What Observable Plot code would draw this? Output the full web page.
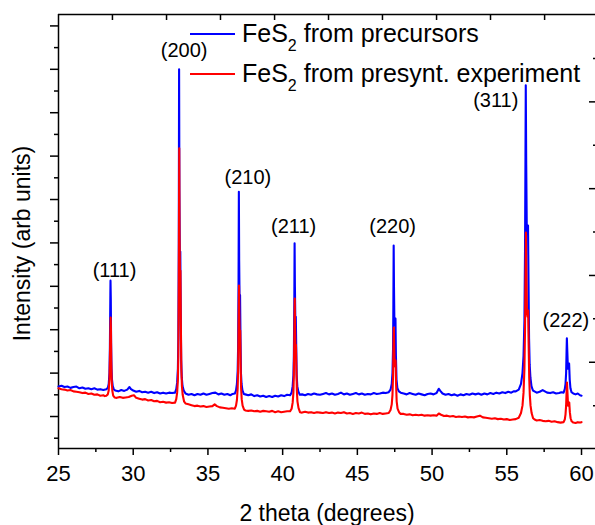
<!DOCTYPE html>
<html><head><meta charset="utf-8">
<script src="https://cdn.jsdelivr.net/npm/d3@7"></script>
<script src="https://cdn.jsdelivr.net/npm/@observablehq/plot@0.6"></script>
<style>
body{margin:0;background:#fff;}
#wrap{position:relative;width:595px;height:525px;font-family:"Liberation Sans",Arial,sans-serif;overflow:hidden;}
#legend{position:absolute;left:190px;top:13px;font-size:25px;line-height:40px;color:#000;}
.row{white-space:nowrap;height:40px;}
.sw{display:inline-block;width:45px;height:2px;margin-right:7px;vertical-align:7px;}
sub{font-size:16px;line-height:0;vertical-align:-9px;}
</style></head>
<body><div id="wrap"><div id="legend"></div></div>
<script>
// ---- data (2 theta in degrees, intensity in arbitrary units) ----
const seriesNames = ["FeS<sub>2</sub> from precursors", "FeS<sub>2</sub> from presynt. experiment"];
const seriesColors = ["#0000ff", "#ff0000"];

const blue = [
[25.00,6.9],[25.20,7.1],[25.40,6.8],[25.60,6.9],[25.80,6.6],[26.00,6.8],[26.20,6.9],[26.40,6.5],[26.60,6.7],[26.80,6.4],
[27.00,6.5],[27.20,6.3],[27.40,6.5],[27.60,6.2],[27.80,6.3],[28.00,6.1],[28.20,6.3],
[28.30,6.6],[28.36,7.5],[28.41,10],[28.44,16],[28.47,28],[28.48,31.3],[28.50,27],[28.52,17],[28.55,11],[28.58,8.5],[28.63,7.0],[28.70,6.3],
[28.80,6.0],[29.00,5.8],[29.20,6.1],[29.40,5.9],[29.60,6.2],[29.75,6.8],[29.85,6.3],[30.00,6.0],[30.20,5.7],[30.40,5.9],
[30.60,5.6],[30.80,5.7],[31.00,5.5],[31.20,5.7],[31.40,5.4],[31.60,5.6],[31.80,5.3],[32.00,5.5],[32.20,5.3],[32.40,5.5],[32.60,5.4],
[32.80,5.5],[32.88,6.3],[32.94,7.8],[32.99,11],[33.02,18],[33.05,40],[33.07,80.0],[33.09,52],[33.12,36],[33.15,38],[33.18,24],
[33.21,13],[33.25,9],[33.30,7],[33.38,6],[33.50,5.3],
[33.70,5.0],[33.90,5.2],[34.10,4.9],[34.30,5.2],[34.50,5.0],[34.70,5.3],[34.90,5.0],[35.10,5.2],[35.30,5.4],[35.50,5.5],
[35.70,5.1],[35.90,5.3],[36.10,5.0],[36.30,5.2],[36.50,4.9],[36.65,5.2],
[36.80,5.3],[36.88,6.0],[36.94,7.5],[36.99,10.5],[37.02,16],[37.05,32],[37.07,51.8],[37.09,36],[37.12,26],[37.15,28],[37.18,18],
[37.21,10],[37.25,7.5],[37.31,6],[37.40,5.2],[37.50,5.1],
[37.70,4.9],[37.90,5.1],[38.10,4.7],[38.30,4.9],[38.50,4.6],[38.70,4.8],[38.90,4.5],[39.10,4.7],[39.30,4.5],[39.50,4.8],
[39.70,4.6],[39.90,4.9],[40.10,4.7],[40.30,5.0],
[40.50,4.9],[40.60,5.5],[40.67,7],[40.72,9.5],[40.75,14],[40.78,26],[40.80,39.9],[40.82,30],[40.85,22],[40.88,23],[40.91,16],
[40.94,9.5],[40.98,7],[41.05,5.8],[41.15,5.0],
[41.30,5.1],[41.50,4.9],[41.70,5.2],[41.90,5.0],[42.10,5.3],[42.30,5.1],[42.50,5.0],[42.70,5.2],[42.90,5.4],[43.10,5.1],
[43.30,5.3],[43.50,5.0],[43.70,5.2],[43.90,5.5],[44.10,5.1],[44.30,5.3],[44.50,5.0],[44.70,5.2],[44.90,5.4],[45.10,5.1],
[45.30,5.3],[45.50,5.0],[45.70,5.2],[45.90,5.1],[46.10,5.4],[46.30,5.2],[46.50,5.3],[46.70,5.5],[46.90,5.4],
[47.10,5.6],[47.22,6.2],[47.30,7.5],[47.35,10],[47.39,16],[47.41,26],[47.43,39.4],[47.45,30],[47.48,21],[47.52,21],[47.55,22.6],
[47.58,14],[47.62,8.5],[47.68,6.5],[47.78,5.8],[47.90,5.5],
[48.10,5.3],[48.30,5.1],[48.50,5.4],[48.70,5.2],[48.90,5.0],[49.10,5.3],[49.30,5.1],[49.50,4.9],[49.70,5.2],[49.90,5.3],
[50.10,5.1],[50.30,5.4],[50.45,6.4],[50.55,5.9],[50.70,5.3],[50.90,5.0],[51.10,5.2],[51.30,4.9],[51.50,5.1],[51.70,4.8],
[51.90,5.1],[52.10,4.9],[52.30,5.2],[52.50,5.0],[52.70,5.3],[52.90,5.1],[53.10,5.3],[53.30,5.0],[53.50,5.3],[53.70,5.1],
[53.90,5.4],[54.10,5.2],[54.30,5.5],[54.50,5.3],[54.70,5.6],[54.90,5.4],[55.10,5.7],[55.30,5.5],[55.45,5.8],
[55.60,5.8],[55.80,6.2],[55.95,7.5],[56.05,10],[56.12,14],[56.18,22],[56.22,38],[56.25,60],[56.27,76.3],[56.30,58],[56.34,42],
[56.38,42],[56.42,44.0],[56.45,32],[56.49,18],[56.53,12],[56.58,9],[56.65,7],[56.75,6],[56.85,5.8],
[57.00,5.5],[57.20,5.7],[57.40,6.1],[57.55,5.8],[57.70,5.5],[57.90,5.4],[58.10,5.6],[58.30,5.3],[58.50,5.4],[58.65,5.6],
[58.80,5.5],[58.88,6.3],[58.93,7.5],[58.97,10],[59.00,15],[59.02,18.0],[59.05,15],[59.09,11],[59.13,11.5],[59.17,12.2],
[59.21,8.5],[59.26,6.5],[59.33,5.6],[59.45,5.3],
[59.60,5.1],[59.75,5.3],[59.90,4.9],[60.00,4.8]
];

const red = [
[25.00,6.5],[25.20,6.3],[25.40,6.2],[25.60,6.0],[25.80,6.1],[26.00,5.8],[26.20,5.7],[26.40,5.6],[26.60,5.4],[26.80,5.5],
[27.00,5.2],[27.20,5.3],[27.40,5.0],[27.60,5.1],[27.80,4.8],[28.00,4.9],[28.10,4.7],
[28.20,4.8],[28.30,5.1],[28.36,6],[28.41,8.5],[28.44,13],[28.47,20],[28.49,22.8],[28.51,20],[28.53,13],[28.56,8.5],[28.60,6],
[28.66,4.8],[28.75,4.4],
[28.90,4.3],[29.10,4.5],[29.30,4.3],[29.50,4.4],[29.70,4.5],[29.90,4.8],[30.05,4.9],[30.20,4.3],[30.40,4.1],[30.60,3.9],
[30.80,4.0],[31.00,3.7],[31.20,3.8],[31.40,3.5],[31.60,3.6],[31.80,3.3],[32.00,3.4],[32.20,3.2],[32.40,3.3],[32.60,3.1],
[32.80,3.2],[32.88,4.0],[32.94,5.5],[32.99,8.5],[33.02,14],[33.05,32],[33.08,61.8],[33.10,42],[33.13,32],[33.16,33.6],
[33.19,21],[33.22,11],[33.26,7],[33.31,5],[33.40,3.5],[33.50,3.0],
[33.70,2.8],[33.90,2.6],[34.10,2.4],[34.30,2.5],[34.50,2.3],[34.70,2.4],[34.90,2.2],[35.10,2.3],[35.30,2.4],[35.45,2.8],
[35.60,2.4],[35.80,2.1],[36.00,2.0],[36.20,1.9],[36.40,1.8],[36.60,1.9],
[36.80,1.8],[36.88,2.5],[36.94,3.8],[36.99,6.5],[37.02,11],[37.05,21],[37.08,30.2],[37.10,24],[37.13,18],[37.16,19.8],
[37.19,12],[37.22,6.5],[37.26,4],[37.32,2.5],[37.42,1.6],[37.50,1.4],
[37.70,1.3],[37.90,1.4],[38.10,1.2],[38.30,1.3],[38.50,1.1],[38.70,1.3],[38.90,1.2],[39.10,1.1],[39.30,1.3],[39.50,1.0],
[39.70,1.2],[39.90,1.0],[40.10,1.1],[40.30,1.2],
[40.50,1.2],[40.60,1.8],[40.67,3.2],[40.72,5.5],[40.75,9.5],[40.78,18],[40.81,27.2],[40.83,21],[40.86,15],[40.89,16.5],
[40.92,11],[40.95,6],[40.99,3.5],[41.06,2],[41.16,1.0],
[41.30,0.9],[41.50,1.1],[41.70,0.9],[41.90,1.0],[42.10,0.8],[42.30,1.0],[42.50,0.9],[42.70,0.8],[42.90,1.0],[43.10,0.8],
[43.30,0.9],[43.50,0.7],[43.70,0.9],[43.90,0.8],[44.10,1.0],[44.30,0.7],[44.50,0.8],[44.70,0.6],[44.90,0.8],[45.10,0.7],
[45.30,0.9],[45.50,0.6],[45.70,0.7],[45.90,0.5],[46.10,0.7],[46.30,0.6],[46.50,0.8],[46.70,0.6],[46.90,0.7],
[47.10,0.8],[47.22,1.5],[47.30,2.8],[47.35,5],[47.39,9.5],[47.41,15],[47.44,20.5],[47.46,17],[47.49,12],[47.53,11.5],
[47.56,12.9],[47.59,7.5],[47.63,3.5],[47.69,1.8],[47.79,1.0],[47.90,0.6],
[48.10,0.6],[48.30,0.4],[48.50,0.5],[48.70,0.3],[48.90,0.4],[49.10,0.3],[49.30,0.4],[49.50,0.2],[49.70,0.3],[49.90,0.2],
[50.10,0.3],[50.30,0.2],[50.45,0.7],[50.60,0.4],[50.80,0.1],[51.00,0.2],[51.20,0.0],[51.40,0.1],[51.60,-0.1],[51.80,0.0],
[52.00,-0.1],[52.20,0.0],[52.40,-0.2],[52.60,-0.1],[52.80,-0.2],[53.00,0.0],[53.20,0.2],[53.40,-0.2],[53.60,-0.3],[53.80,-0.4],
[54.00,-0.5],[54.20,-0.4],[54.40,-0.6],[54.60,-0.5],[54.80,-0.7],[55.00,-0.6],[55.20,-0.8],[55.40,-0.7],
[55.60,-0.6],[55.80,-0.3],[55.95,0.8],[56.05,2.5],[56.12,5.5],[56.18,11],[56.22,20],[56.25,32],[56.28,42.4],[56.31,34],
[56.35,24],[56.39,23],[56.43,24.4],[56.46,17],[56.50,9],[56.54,5],[56.59,2.5],[56.66,0.8],[56.76,-0.4],[56.86,-0.7],
[57.00,-0.9],[57.20,-0.8],[57.40,-1.0],[57.60,-1.1],[57.80,-1.0],[58.00,-1.2],[58.20,-1.1],[58.40,-1.3],[58.60,-1.4],
[58.80,-1.3],[58.88,-0.7],[58.93,0.5],[58.97,2.5],[59.00,5.5],[59.03,7.8],[59.06,5.5],[59.10,2.5],[59.14,2.6],[59.18,3.2],
[59.22,1.0],[59.27,-0.4],[59.34,-1.1],[59.45,-1.4],
[59.60,-1.5],[59.75,-1.3],[59.90,-1.4],[60.00,-1.3]
];

const peakLabels = ["(111)", "(200)", "(210)", "(211)", "(220)", "(311)", "(222)"];
const peakTheta  = [28.48, 33.07, 37.07, 40.80, 47.43, 56.27, 59.02];

const xTicks      = [25, 30, 35, 40, 45, 50, 55, 60];
const xMinorTicks = [27.5, 32.5, 37.5, 42.5, 47.5, 52.5, 57.5];
const topTicks    = [28.61, 32.23, 35.84, 39.46, 43.07, 46.68, 50.30, 53.91, 57.53];
const leftMajor   = [0, 10, 20, 30, 40, 50, 60, 70, 80, 90];
const leftMinor   = [-5, 5, 15, 25, 35, 45, 55, 65, 75, 85];
const rightMajor  = [12.5, 32.5, 52.5, 72.5];
const rightMinor  = [2.5, 22.5, 42.5, 62.5, 82.5];

const xDomain = [25, 61.07];
const yDomain = [-7.37, 92.63];

// ---- layout offsets for peak labels (pixels) ----
const labelOffsets = [[4,-10],[5,-19],[9,-14],[-1,-17],[-1,-19],[-30,15],[-1,-18]];

const labelMarks = peakLabels.map((lab, i) => {
  const th = peakTheta[i];
  const tip = d3.max(blue.filter(d => Math.abs(d[0] - th) < 0.03), d => d[1]);
  return Plot.text([lab], {x: th, y: tip, dx: labelOffsets[i][0], dy: labelOffsets[i][1], fontSize: 20, fill: "#000"});
});

const chart = Plot.plot({
  width: 595, height: 525,
  marginLeft: 58, marginRight: 0, marginTop: 14, marginBottom: 77,
  style: {fontFamily: "'Liberation Sans', Arial, sans-serif", background: "#fff", color: "#000", overflow: "hidden"},
  x: {domain: xDomain, range: [58, 597]},
  y: {domain: yDomain},
  marks: [
    Plot.ruleX([xDomain[0]], {strokeWidth: 1.5}),
    Plot.ruleY([yDomain[0], yDomain[1]], {strokeWidth: 1.5}),
    Plot.axisX(xTicks, {anchor: "bottom", tickSize: 7, tickPadding: 10, fontSize: 22, label: null, strokeWidth: 1.5}),
    Plot.axisX(xMinorTicks, {anchor: "bottom", tickSize: 4, fill: "none", label: null, strokeWidth: 1.5}),
    Plot.axisX(topTicks, {anchor: "top", tickSize: -5, fill: "none", label: null, strokeWidth: 1.5}),
    Plot.axisY(leftMajor, {anchor: "left", tickSize: 8, fill: "none", label: null, strokeWidth: 1.5}),
    Plot.axisY(leftMinor, {anchor: "left", tickSize: 4, fill: "none", label: null, strokeWidth: 1.5}),
    Plot.axisY(rightMajor, {anchor: "right", tickSize: -7, fill: "none", label: null, strokeWidth: 1.5}),
    Plot.axisY(rightMinor, {anchor: "right", tickSize: -3, fill: "none", label: null, strokeWidth: 1.5}),
    Plot.line(blue, {x: d => d[0], y: d => d[1], stroke: seriesColors[0], strokeWidth: 2.1}),
    Plot.line(red, {x: d => d[0], y: d => d[1], stroke: seriesColors[1], strokeWidth: 2.1}),
    ...labelMarks,
    Plot.text(["2 theta (degrees)"], {frameAnchor: "bottom", lineAnchor: "middle", textAnchor: "middle", dy: 65, fontSize: 23, fill: "#000"}),
    Plot.text(["Intensity (arb units)"], {frameAnchor: "left", lineAnchor: "middle", textAnchor: "middle", dx: -36, dy: 12, rotate: -90, fontSize: 23, fill: "#000"})
  ]
});

const wrap = document.getElementById("wrap");
wrap.insertBefore(chart, wrap.firstChild);
chart.style.position = "absolute";
chart.style.left = "0";
chart.style.top = "0";

const legend = document.getElementById("legend");
seriesNames.forEach((name, i) => {
  const row = document.createElement("div");
  row.className = "row";
  row.innerHTML = `<span class="sw" style="background:${seriesColors[i]}"></span>${name}`;
  legend.appendChild(row);
});
</script>
</body></html>
